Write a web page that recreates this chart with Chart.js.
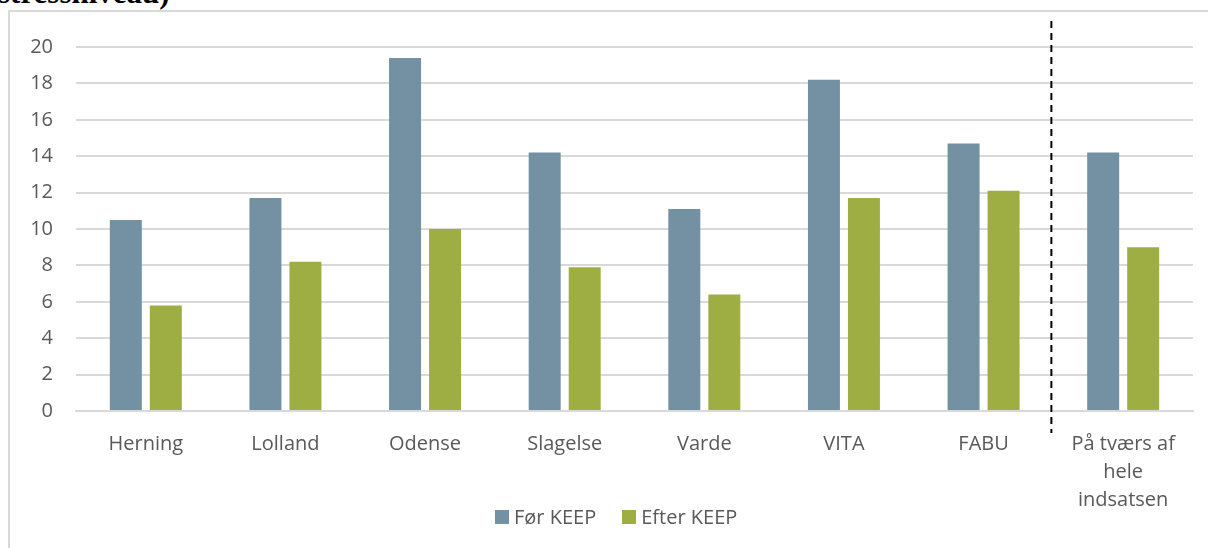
<!DOCTYPE html>
<html lang="da">
<head>
    <meta charset="UTF-8">
    <title>Før og efter KEEP</title>
    <script src="https://cdn.jsdelivr.net/npm/chart.js"></script>
    <style>
        body { margin: 0; background: #fff; width: 1208px; height: 548px; overflow: hidden; position: relative; }
        #title { position: absolute; left: -2px; top: -22px; line-height: 30px; font-family: "Liberation Serif", serif; font-weight: bold; font-size: 31px; color: #000; white-space: nowrap; }
        #box { position: absolute; left: 8px; top: 10px; width: 1210px; height: 560px; border: 2px solid #d9d9d9; box-sizing: border-box; }
        #wrap { position: absolute; left: 10px; top: 12px; width: 1198px; height: 536px; }
        #legend { position: absolute; left: 495px; top: 503px; display: flex; align-items: center; font-family: "Open Sans", "Noto Sans", sans-serif; font-size: 20px; color: #595959; white-space: nowrap; }
        #legend .item { display: flex; align-items: center; margin-right: 26px; }
        #legend .swatch { width: 14px; height: 14px; margin-right: 5px; }
    </style>
</head>
<body>
    <div id="title">stressniveau)</div>
    <div id="box"></div>
    <div id="wrap"><canvas id="myChart"></canvas></div>
    <div id="legend"></div>

    <script>
        // data
        const categories = ['Herning', 'Lolland', 'Odense', 'Slagelse', 'Varde', 'VITA', 'FABU', ['På tværs af', 'hele', 'indsatsen']];
        const foerKeep = [10.5, 11.7, 19.4, 14.2, 11.1, 18.2, 14.7, 14.2];
        const efterKeep = [5.8, 8.2, 10.0, 7.9, 6.4, 11.7, 12.1, 9.0];
        const yTicks = { min: 0, max: 20, step: 2 };

        const textColor = '#595959';
        const gridColor = '#d9d9d9';
        const fontFamily = '"Open Sans", "Noto Sans", sans-serif';

        // dashed separator between the sites and the total
        const separatorPlugin = {
            id: 'separator',
            afterDraw(chart) {
                const x = chart.scales.x;
                const area = chart.chartArea;
                const px = (x.getPixelForValue(6) + x.getPixelForValue(7)) / 2 - 2;
                const ctx = chart.ctx;
                ctx.save();
                ctx.strokeStyle = '#000';
                ctx.lineWidth = 2;
                ctx.setLineDash([7, 5]);
                ctx.beginPath();
                ctx.moveTo(px, area.top - 26);
                ctx.lineTo(px, area.bottom + 22);
                ctx.stroke();
                ctx.restore();
            }
        };

        const ctx = document.getElementById('myChart').getContext('2d');
        const myChart = new Chart(ctx, {
            type: 'bar',
            data: {
                labels: categories,
                datasets: [
                    {
                        label: 'Før KEEP',
                        data: foerKeep,
                        backgroundColor: '#7391a2',
                        barPercentage: 0.8,
                        categoryPercentage: 0.573
                    },
                    {
                        label: 'Efter KEEP',
                        data: efterKeep,
                        backgroundColor: '#9fae43',
                        barPercentage: 0.8,
                        categoryPercentage: 0.573
                    }
                ]
            },
            options: {
                responsive: true,
                maintainAspectRatio: false,
                animation: false,
                layout: { padding: { top: 21, right: 15, left: 0, bottom: 23 } },
                plugins: {
                    legend: { display: false },
                    tooltip: { enabled: false }
                },
                scales: {
                    x: {
                        grid: { display: false },
                        border: { color: gridColor, width: 2 },
                        ticks: { color: textColor, font: { family: fontFamily, size: 20, lineHeight: 1.4 }, padding: 11, maxRotation: 0 }
                    },
                    y: {
                        min: yTicks.min,
                        max: yTicks.max,
                        afterFit(scale) { scale.width = 66; },
                        ticks: { stepSize: yTicks.step, color: textColor, font: { family: fontFamily, size: 20 }, padding: 23 },
                        grid: { color: gridColor, lineWidth: 2, drawTicks: false },
                        border: { display: false }
                    }
                }
            },
            plugins: [separatorPlugin]
        });

        // legend built from the datasets
        const legendEl = document.getElementById('legend');
        myChart.data.datasets.forEach(ds => {
            const item = document.createElement('div');
            item.className = 'item';
            const sw = document.createElement('span');
            sw.className = 'swatch';
            sw.style.background = ds.backgroundColor;
            const txt = document.createElement('span');
            txt.textContent = ds.label;
            item.appendChild(sw);
            item.appendChild(txt);
            legendEl.appendChild(item);
        });
    </script>
</body>
</html>
